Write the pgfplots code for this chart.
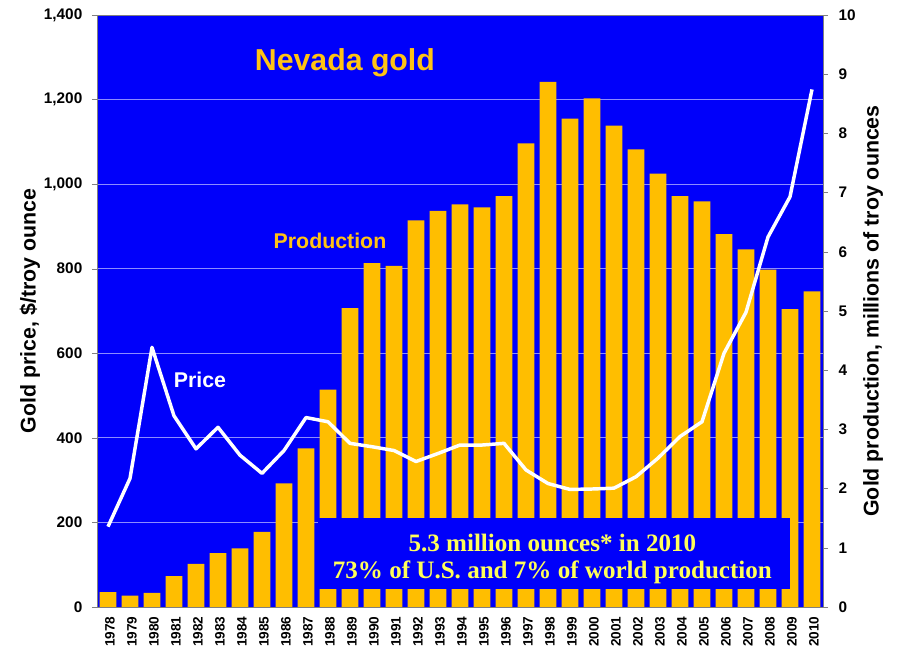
\documentclass[border=0pt]{standalone}
\usepackage{pgfplots}
\pgfplotsset{compat=1.18}
\usepackage{fontspec}
\setmainfont{Liberation Sans}
\newfontfamily\tnr{Liberation Serif}
\definecolor{myblue}{RGB}{0,0,250}
\definecolor{barc}{RGB}{255,190,0}
\definecolor{gridc}{RGB}{140,140,255}
\definecolor{boxtext}{RGB}{255,255,90}
\definecolor{titlec}{RGB}{255,195,20}
\begin{document}
\begin{tikzpicture}
\begin{axis}[
  scale only axis, width=544.5pt, height=444pt,
  xmin=1977.5, xmax=2010.5, ymin=0, ymax=10,
  axis background/.style={fill=myblue},
  axis line style={gray},
  ytick={0,1,...,10},
  ytick pos=right, yticklabel pos=right,
  ylabel near ticks,
  ylabel={\bfseries\fontsize{16}{18}\selectfont Gold production, millions of troy ounces},
  ylabel style={at={(axis description cs:1.0689,0.5)}, anchor=center, rotate=0},
  xtick={1978,...,2010},
  xtick pos=bottom,
  minor x tick num=1,
  major x tick style={draw=none},
  minor x tick style={gray},
  tick align=outside,
  major tick length=3.75pt,
  minor tick length=3.75pt,
  y tick style={gray},
  /pgf/number format/assume math mode=true,
  tick label style={font=\bfseries\fontsize{11.5}{13}\selectfont},
  y tick label style={xshift=4.5pt},
  x tick label style={rotate=90, anchor=east, yshift=-1.5pt, font=\bfseries\fontsize{10.2}{12}\selectfont, /pgf/number format/.cd, 1000 sep={}},
  extra y ticks={1.428571,2.857143,4.285714,5.714286,7.142857,8.571429},
  extra y tick labels={},
  extra y tick style={grid=major, major grid style={color=gridc, line width=0.6pt}, major tick length=0pt},
]
\addplot[ybar, bar width=12.5pt, fill=barc, draw=none] coordinates {
(1978,0.25) (1979,0.19) (1980,0.24) (1981,0.52) (1982,0.73) (1983,0.91)
(1984,0.99) (1985,1.27) (1986,2.09) (1987,2.68) (1988,3.67) (1989,5.05)
(1990,5.81) (1991,5.76) (1992,6.53) (1993,6.69) (1994,6.80) (1995,6.75)
(1996,6.94) (1997,7.83) (1998,8.87) (1999,8.25) (2000,8.59) (2001,8.13)
(2002,7.73) (2003,7.32) (2004,6.94) (2005,6.85) (2006,6.30) (2007,6.04)
(2008,5.70) (2009,5.03) (2010,5.33)
};
\end{axis}
\begin{axis}[
  scale only axis, width=544.5pt, height=444pt,
  xmin=1977.5, xmax=2010.5, ymin=0, ymax=1400,
  hide x axis,
  axis y line*=left,
  axis line style={gray},
  ytick={0,200,...,1400},
  tick align=outside,
  major tick length=3.75pt,
  y tick style={gray},
  /pgf/number format/assume math mode=true,
  /pgf/number format/1000 sep={,},
  tick label style={font=\bfseries\fontsize{11.5}{13}\selectfont},
  y tick label style={xshift=-3.75pt},
  ylabel={\bfseries\fontsize{16}{18}\selectfont Gold price, \$/troy ounce},
  ylabel style={at={(axis description cs:-0.0923,0.5)}, anchor=center},
  clip=false,
]
\fill[myblue] (axis cs:1987.55,42.6) rectangle (axis cs:2009.0,210.4);
\node[text=boxtext, font=\tnr\bfseries\fontsize{18.8}{22}\selectfont] at (axis cs:1998.2,151) {5.3 million ounces* in 2010};
\node[text=boxtext, font=\tnr\bfseries\fontsize{18.8}{22}\selectfont] at (axis cs:1998.2,83) {73\% of U.S. and 7\% of world production};
\node[text=titlec, font=\bfseries\fontsize{22.7}{26}\selectfont] at (axis cs:1988.77,1286) {Nevada gold};
\node[text=titlec, font=\bfseries\fontsize{16}{18}\selectfont] at (axis cs:1988.09,865) {Production};
\node[text=white, font=\bfseries\fontsize{16}{18}\selectfont] at (axis cs:1982.18,537) {Price};
\addplot[white, line width=2.6pt, line join=round] coordinates {
(1978,190) (1979,304) (1980,614) (1981,452) (1982,374) (1983,425)
(1984,359) (1985,316) (1986,370) (1987,448) (1988,438) (1989,387)
(1990,379) (1991,370) (1992,344) (1993,363) (1994,383) (1995,383)
(1996,387) (1997,324) (1998,292) (1999,278) (2000,279) (2001,281)
(2002,308) (2003,352) (2004,403) (2005,438) (2006,600) (2007,697)
(2008,875) (2009,970) (2010,1224)
};
\end{axis}
\pgfresetboundingbox
\path (-72.75pt,-36pt) rectangle (602.25pt,455.25pt);
\end{tikzpicture}
\end{document}
